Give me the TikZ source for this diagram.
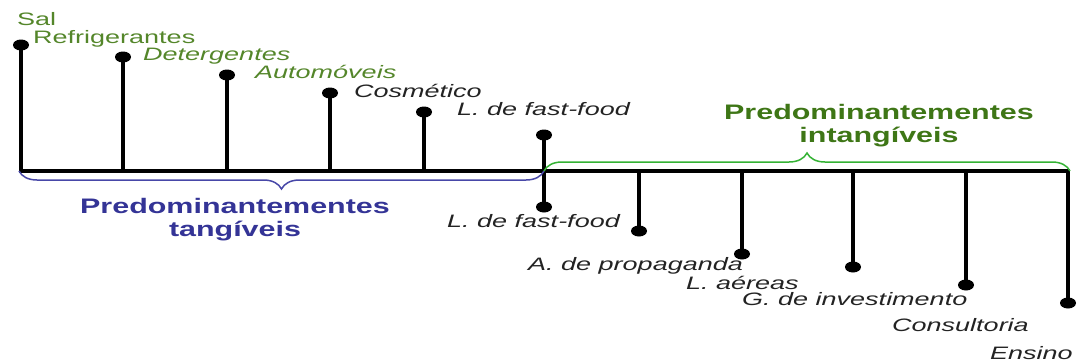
\documentclass[tikz,border=0pt]{standalone}
\usepackage{fontspec}
\setmainfont{Liberation Sans}
\newfontfamily\itemfont{Liberation Sans}[FakeStretch=1.5]
\newfontfamily\groupfont{Liberation Sans}[FakeStretch=1.45]
\usetikzlibrary{shapes.geometric, decorations.pathreplacing}

\definecolor{leafgreen}{RGB}{84,134,42}
\definecolor{darkgreen}{RGB}{62,118,22}
\definecolor{bracegreen}{RGB}{52,178,52}
\definecolor{braceblue}{RGB}{72,72,168}
\definecolor{inkblue}{RGB}{52,52,150}
\definecolor{inkgrey}{RGB}{35,35,35}

\begin{document}
\begin{tikzpicture}[x=1pt,y=-1pt]
\tikzstyle{every node}+=[inner sep=0pt]
\tikzstyle{pin}=[ellipse, fill=black, minimum width=16pt, minimum height=11pt]
\tikzstyle{stem}=[line width=4pt]
\tikzstyle{item}=[anchor=base west, inkgrey, font=\itemfont\fontsize{18}{21}\selectfont]
\tikzstyle{group}=[anchor=north, align=center, font=\groupfont\bfseries\fontsize{21}{23}\selectfont]
\tikzstyle{curly}=[line width=1.5pt, decorate, decoration={brace, amplitude=18pt}]
\useasboundingbox (0,0) rectangle (1077,364);

\coordinate (left) at (19,171);
\coordinate (mid) at (544,171);
\coordinate (right) at (1070,171);

% pins above the line
\node[pin] (sal) at (21,45) {};
\node[pin] (refr) at (123,57) {};
\node[pin] (deter) at (227,75) {};
\node[pin] (auto) at (330,93) {};
\node[pin] (cosm) at (424,112) {};
\node[pin] (ffup) at (544,135) {};
% pins below the line
\node[pin] (ffdown) at (544,207) {};
\node[pin] (prop) at (639,231) {};
\node[pin] (aereas) at (742,254) {};
\node[pin] (invest) at (853,267) {};
\node[pin] (consult) at (966,285) {};
\node[pin] (ensino) at (1068,303) {};

\foreach \p in {sal,refr,deter,auto,cosm,ffup,ffdown,prop,aereas,invest,consult,ensino}
  \draw[stem] (\p.center) -- (\p |- left);
\draw[line width=3.5pt] (left) -- (right);

\draw[curly, braceblue, decoration={mirror}] (left) -- (mid);
\draw[curly, bracegreen] (mid) -- (right);

\node[item, leafgreen] (salL) at (17,25) {Sal};
\node[item, leafgreen] (refrL) at (33,43) {Refrigerantes};
\node[item, leafgreen] (deterL) at (143,60.5) {\itshape Detergentes};
\node[item, leafgreen] (autoL) at (255,78) {\itshape Automóveis};
\node[item] (cosmL) at (354,97) {\itshape Cosmético};
\node[item] (ffupL) at (457,115) {\itshape L. de fast-food};

\node[item] (ffdownL) at (447,227) {\itshape L. de fast-food};
\node[item] (propL) at (528,270) {\itshape A. de propaganda};
\node[item] (aereasL) at (686,289) {\itshape L. aéreas};
\node[item] (investL) at (742,305) {\itshape G. de investimento};
\node[item] (consultL) at (892,331) {\itshape Consultoria};
\node[item] (ensinoL) at (990,359) {\itshape Ensino};

\node[group, darkgreen] (intang) at (879,104) {Predominantementes\\intangíveis};
\node[group, inkblue] (tang) at (235,198) {Predominantementes\\tangíveis};
\end{tikzpicture}
\end{document}
